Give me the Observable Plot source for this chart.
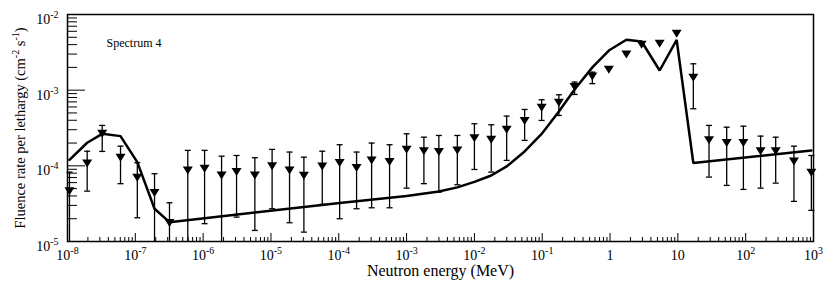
<!DOCTYPE html>
<html><head><meta charset="utf-8">
<script src="https://cdn.jsdelivr.net/npm/d3@7"></script>
<script src="https://cdn.jsdelivr.net/npm/@observablehq/plot@0.6"></script>
<style>body{margin:0;background:#fff}</style>
</head><body><div id="chart"></div>
<script>
// Measured spectrum (triangles with error bars); errLow null = bar runs below the axis
const energy  = [1.07e-8,1.95e-8,3.25e-8,6.05e-8,1.07e-7,1.92e-7,3.19e-7,5.94e-7,1.05e-6,1.87e-6,3.11e-6,5.79e-6,
                 1.04e-5,1.88e-5,3.06e-5,5.71e-5,1.03e-4,1.83e-4,3.05e-4,5.61e-4,1.0e-3,1.80e-3,2.99e-3,5.6e-3,
                 1.0e-2,1.77e-2,2.99e-2,5.5e-2,9.8e-2,0.176,0.30,0.548,0.96,1.74,2.92,5.39,9.6,16.9,28.8,52.5,92.5,166,277,515,930];
const fluence = [4.63e-5,1.07e-4,2.65e-4,1.28e-4,6.97e-5,4.36e-5,1.75e-5,8.69e-5,9.16e-5,7.46e-5,8.26e-5,7.46e-5,
                 9.9e-5,8.69e-5,7.39e-5,9.82e-5,1.09e-4,9.33e-5,1.18e-4,1.12e-4,1.63e-4,1.56e-4,1.52e-4,1.60e-4,
                 2.32e-4,2.21e-4,3.0e-4,3.90e-4,5.85e-4,6.8e-4,1.10e-3,1.52e-3,1.86e-3,2.96e-3,3.98e-3,4.10e-3,5.56e-3,
                 1.46e-3,2.17e-4,2.0e-4,2.0e-4,1.56e-4,1.56e-4,1.14e-4,8.11e-5];
const errHigh = [8.26e-5,1.56e-4,3.42e-4,1.82e-4,1.10e-4,7.87e-5,3.25e-5,1.60e-4,1.60e-4,1.34e-4,1.37e-4,1.28e-4,
                 1.65e-4,1.52e-4,1.30e-4,1.56e-4,1.90e-4,1.52e-4,2.0e-4,1.90e-4,2.65e-4,2.39e-4,2.52e-4,2.52e-4,
                 3.6e-4,3.49e-4,4.54e-4,5.56e-4,7.46e-4,8.69e-4,1.28e-3,1.73e-3,null,null,null,null,null,
                 2.23e-3,3.42e-4,3.24e-4,3.34e-4,2.47e-4,2.39e-4,1.82e-4,1.37e-4];
const errLow  = [null,4.63e-5,1.55e-4,5.81e-5,2.06e-5,null,null,null,1.72e-5,null,2.10e-5,1.40e-5,
                 2.71e-5,1.77e-5,1.33e-5,3.09e-5,2.0e-5,2.71e-5,2.79e-5,2.79e-5,5.07e-5,5.81e-5,4.5e-5,5.62e-5,
                 8.95e-5,8.26e-5,1.18e-4,2.17e-4,3.98e-4,4.63e-4,8.77e-4,1.22e-3,null,null,null,null,null,
                 5.68e-4,7.1e-5,5.51e-5,4.88e-5,5.07e-5,5.91e-5,3.39e-5,2.58e-5];
const hasBar  = errHigh.map(d => d != null);

// Calculated spectrum (solid line)
const lineEnergy  = [1.07e-8,1.95e-8,3.25e-8,6.05e-8,1.07e-7,1.92e-7,3.19e-7,5.79e-6,1.03e-4,1.0e-3,2.99e-3,5.6e-3,
                     1.0e-2,1.77e-2,2.99e-2,5.5e-2,9.8e-2,0.176,0.30,0.548,0.96,1.74,2.92,5.39,9.6,16.9,930];
const lineFluence = [1.20e-4,2.02e-4,2.65e-4,2.47e-4,1.12e-4,2.71e-5,1.80e-5,2.42e-5,3.22e-5,4.0e-5,4.59e-5,5.19e-5,
                     6.13e-5,7.46e-5,9.82e-5,1.55e-4,2.64e-4,5.24e-4,1.02e-3,2.0e-3,3.34e-3,4.63e-3,4.40e-3,1.82e-3,4.63e-3,1.09e-4,1.60e-4];

// Axes
const xTicks = [1e-8,1e-7,1e-6,1e-5,1e-4,1e-3,1e-2,1e-1,1,10,100,1000];
const xTickLabels = ["10^-8","10^-7","10^-6","10^-5","10^-4","10^-3","10^-2","10^-1","1","10","10^2","10^3"];
const yTicks = [1e-5,1e-4,1e-3,1e-2];
const yTickLabels = ["10^-5","10^-4","10^-3","10^-2"];
const title = "Spectrum 4";
const xLabel = "Neutron energy (MeV)";
const yLabel = "Fluence rate per lethargy (cm^-2 s^-1)";

const xLab = new Map(xTicks.map((d,i)=>[d,xTickLabels[i]]));
const yLab = new Map(yTicks.map((d,i)=>[d,yTickLabels[i]]));
const minorX = xTicks.slice(0,-1).flatMap(d => d3.range(2,10).map(k => k*d));
const minorY = yTicks.slice(0,-1).flatMap(d => d3.range(2,10).map(k => k*d));

const yMin = yTicks[0];
const points = energy.map((e,i)=>({e, f: fluence[i], hi: errHigh[i], lo: errLow[i] ?? yMin / 2, loCap: errLow[i], bar: hasBar[i]}));
const bars = points.filter(d => d.bar);
const curve = lineEnergy.map((e,i)=>({e, f: lineFluence[i]}));

const triDown = {draw(ctx, size){ const r = Math.sqrt(size/Math.PI); ctx.moveTo(-r,-0.8*r); ctx.lineTo(r,-0.8*r); ctx.lineTo(0,0.8*r); ctx.closePath(); }};
const capSym = {draw(ctx, size){ const r = Math.sqrt(size/Math.PI); ctx.moveTo(-r,0); ctx.lineTo(r,0); }};

const plot = Plot.plot({
  width: 830, height: 284,
  marginLeft: 67, marginRight: 17, marginTop: 14, marginBottom: 43,
  style: {fontFamily: "'Liberation Serif', serif", fontSize: "14px", background: "#fff", color: "#000"},
  x: {type: "log", domain: [1e-8, 1e3]},
  y: {type: "log", domain: [1e-5, 1e-2]},
  marks: [
    Plot.axisX(minorX, {tickSize: -4, fill: "none", label: null, strokeWidth: 1}),
    Plot.axisX(xTicks, {tickSize: -8, fill: "none", label: null, strokeWidth: 1}),
    Plot.axisX(xTicks, {tickSize: 0, tickPadding: 9, fontSize: 14, tickFormat: d => xLab.get(d), label: null}),
    Plot.axisY(minorY, {tickSize: -10, fill: "none", label: null, strokeWidth: 1}),
    Plot.axisY(yTicks, {tickSize: -18, fill: "none", label: null, strokeWidth: 1}),
    Plot.axisY(yTicks, {tickSize: 0, tickPadding: 9, dy: 5, fontSize: 14, tickFormat: d => yLab.get(d), label: null}),
    Plot.ruleX(bars, {x: "e", y1: "lo", y2: "hi", stroke: "#000", strokeWidth: 1.3, clip: true}),
    Plot.dot(bars, {x: "e", y: "hi", symbol: capSym, r: 3, stroke: "#000", strokeWidth: 1.3, fill: "none"}),
    Plot.dot(bars.filter(d => d.loCap != null), {x: "e", y: "loCap", symbol: capSym, r: 3, stroke: "#000", strokeWidth: 1.3, fill: "none"}),
    Plot.line(curve, {x: "e", y: "f", stroke: "#000", strokeWidth: 2.5, strokeLinejoin: "miter"}),
    Plot.dot(points, {x: "e", y: "f", symbol: triDown, r: 5, fill: "#000", stroke: "none"}),
    Plot.text([title], {frameAnchor: "top-left", dx: 39, dy: 24, textAnchor: "start", fontSize: 12}),
    Plot.text([xLabel], {frameAnchor: "bottom", textAnchor: "middle", dy: 34, fontSize: 16}),
    Plot.text([yLabel], {frameAnchor: "left", textAnchor: "middle", dx: -47, rotate: -90, fontSize: 14.5}),
    Plot.frame({stroke: "#000", strokeWidth: 1.5})
  ]
});

const SVGNS = "http://www.w3.org/2000/svg";
plot.querySelectorAll("text").forEach(el => {
  if (el.children.length) return;
  const s = el.textContent;
  if (!s.includes("^")) return;
  const parts = s.split(/\^(-?\d+)/);
  el.textContent = "";
  let raised = false;
  parts.forEach((p, i) => {
    if (!p) return;
    const t = document.createElementNS(SVGNS, "tspan");
    t.textContent = p;
    if (i % 2) { t.setAttribute("dy", "-6"); t.setAttribute("font-size", "10"); raised = true; }
    else if (raised) { t.setAttribute("dy", "6"); raised = false; }
    el.appendChild(t);
  });
});
document.getElementById("chart").appendChild(plot);
</script>
</body></html>
